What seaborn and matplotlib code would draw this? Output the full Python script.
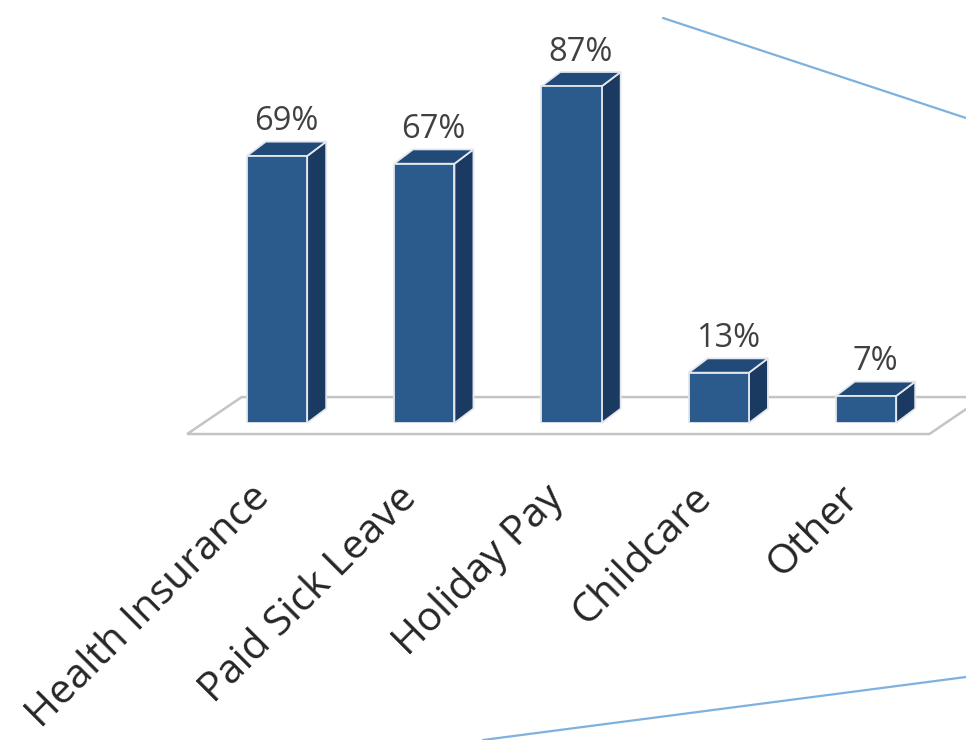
import matplotlib
matplotlib.use('Agg')
import matplotlib.pyplot as plt
import matplotlib.transforms as mtransforms
from matplotlib.patches import Polygon
from matplotlib.lines import Line2D
import seaborn as sns
import pandas as pd

categories = ['Health Insurance', 'Paid Sick Leave', 'Holiday Pay', 'Childcare', 'Other']
percent = [69, 67, 87, 13, 7]

FRONT = '#2b5a8c'
SIDE = '#1b3a62'
TOP = '#214a78'
EDGE = '#e4e8ee'

sns.set_theme(style='white')
plt.rcParams['font.family'] = ['Open Sans', 'DejaVu Sans']

df = pd.DataFrame({'benefit': categories, 'pct': percent})

fig = plt.figure(figsize=(9.66, 7.4), dpi=100)
ax = fig.add_axes([0, 317 / 740, 1, 423 / 740])

sns.barplot(data=df, x='benefit', y='pct', order=categories, color=FRONT,
            width=0.41, saturation=1, edgecolor=EDGE, linewidth=1.3, ax=ax, zorder=3)

ax.set_xlim(-1.881, 4.679)
ax.set_ylim(0, 109.3)

# fake 3d depth
dx, dy = 0.129, 3.7

# floor under the bars
floor = Polygon([(-0.61, -2.85), (-0.24, 6.7), (4.80, 6.7), (4.43, -2.85)],
                closed=True, facecolor='white', edgecolor='#c4c4c4',
                linewidth=1.8, clip_on=False, zorder=1)
ax.add_patch(floor)

for bar in ax.patches[:len(categories)]:
    x0 = bar.get_x()
    w = bar.get_width()
    h = bar.get_height()
    x1 = x0 + w
    side = Polygon([(x1, 0), (x1 + dx, dy), (x1 + dx, h + dy), (x1, h)], closed=True,
                   facecolor=SIDE, edgecolor=EDGE, linewidth=1.3, zorder=2.5, clip_on=False)
    top = Polygon([(x0, h), (x0 + dx, h + dy), (x1 + dx, h + dy), (x1, h)], closed=True,
                  facecolor=TOP, edgecolor=EDGE, linewidth=1.3, zorder=2.5, clip_on=False)
    ax.add_patch(side)
    ax.add_patch(top)
    ax.text(x0 + (w + dx) / 2, h + dy + 0.9, '{:.0f}%'.format(h),
            ha='center', va='bottom', fontsize=23.5, color='#404040')

ax.set_xlabel('')
ax.set_ylabel('')
ax.set_yticks([])
ax.tick_params(axis='x', length=0, pad=55)
ax.set_xticks(range(len(categories)))
ax.set_xticklabels(categories, rotation=45, ha='right', va='baseline',
                   rotation_mode='anchor', fontsize=29.5, color='#262626')
shift = mtransforms.ScaledTranslation(-6 / 100, 0, fig.dpi_scale_trans)
for lab in ax.get_xticklabels():
    lab.set_transform(lab.get_transform() + shift)
sns.despine(ax=ax, left=True, bottom=True)

# callout lines from the surrounding slide
fig.add_artist(Line2D([663 / 966, 1.0], [1 - 18 / 740, 1 - 118 / 740],
                      color='#7fb1de', linewidth=1.6))
fig.add_artist(Line2D([483 / 966, 1.0], [0.0, 1 - 677 / 740],
                      color='#7fb1de', linewidth=1.6))

fig.savefig('out.png', dpi=100)
